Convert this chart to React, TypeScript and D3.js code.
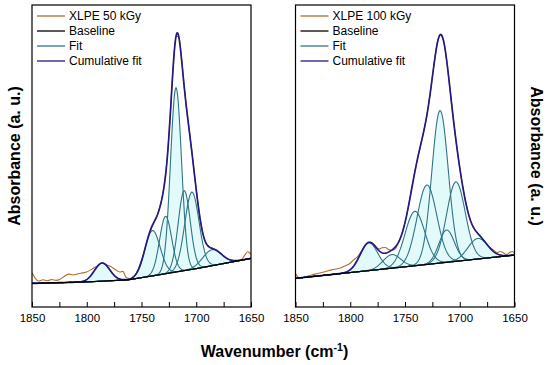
import React, { useRef, useEffect } from "react";
import * as d3 from "d3";

// x axis (wavenumber, cm-1)
const wnTicks = [1850, 1800, 1750, 1700, 1650];
const wnMinorTicks = [1825, 1775, 1725, 1675];
const legendNames = ["Baseline", "Fit", "Cumulative fit"];

// XLPE 50 kGy - measured spectrum
const spec50Wn = [1850, 1847, 1844, 1840, 1836, 1832, 1828, 1824, 1820, 1816, 1812, 1808, 1804, 1800, 1795, 1790, 1786, 1782, 1778, 1774, 1770, 1767, 1764, 1761, 1758, 1755, 1750, 1745, 1740, 1735, 1730, 1727, 1724, 1721, 1718.5, 1716, 1713, 1710, 1707, 1704, 1700, 1696, 1692, 1688, 1684, 1680, 1676, 1672, 1668, 1664, 1660, 1658, 1655, 1653, 1650];
const spec50Abs = [11.3, 9.5, 8.6, 9.0, 8.7, 9.1, 8.8, 9.3, 10.3, 10.9, 10.6, 11.0, 11.3, 11.6, 12.6, 13.7, 14.4, 14.0, 13.4, 12.4, 11.6, 11.8, 9.8, 9.4, 9.8, 11.0, 15.4, 21.5, 27.0, 31.1, 38.5, 47.2, 62.0, 79.7, 89.6, 89.5, 80.8, 69.4, 60.2, 51.4, 38.8, 28.3, 21.9, 19.9, 19.2, 18.5, 17.1, 16.1, 15.4, 15.3, 15.5, 15.9, 17.5, 18.3, 17.4];
// baseline anchor points
const base50Wn = [1850, 1800, 1762, 1700, 1650];
const base50Abs = [7.8, 8.3, 9.0, 12.7, 16.1];
// fitted peaks: centre, height above baseline, width (sigma)
const fit50Center = [1786, 1740, 1728, 1718.5, 1711, 1704, 1685.5];
const fit50Height = [6, 15, 19, 61, 26.5, 25.6, 5.3];
const fit50Sigma = [7, 7, 5.5, 5, 5.5, 6.5, 8.5];

// XLPE 100 kGy
const spec100Wn = [1850, 1848, 1845.5, 1841, 1835, 1829, 1823, 1817, 1810, 1805, 1800, 1797, 1793, 1789, 1786, 1783, 1780, 1777, 1774, 1771, 1768, 1765, 1762, 1759, 1756, 1753, 1750, 1747, 1744, 1741, 1738, 1735, 1732, 1729, 1726, 1723, 1720, 1718, 1715, 1712, 1709, 1706, 1703, 1700, 1697, 1694, 1691, 1688, 1685, 1682, 1678, 1675, 1672, 1669, 1666, 1663, 1660, 1657, 1654, 1652, 1650];
const spec100Abs = [11.2, 10.0, 9.5, 10.0, 10.6, 11.2, 11.7, 12.3, 12.8, 13.6, 14.5, 15.6, 16.8, 18.9, 20.5, 21.4, 21.2, 20.1, 19.2, 19.6, 19.7, 19.0, 18.8, 19.2, 21.4, 24.1, 28.0, 33.1, 39.0, 44.8, 50.0, 54.6, 59.6, 65.8, 73.5, 81.6, 88.3, 90.1, 88.5, 81.8, 72.5, 62.7, 54.0, 46.1, 39.4, 33.8, 29.4, 26.7, 25.0, 23.8, 22.0, 20.5, 19.6, 18.8, 18.0, 18.4, 17.9, 17.3, 18.2, 18.4, 17.8];
const base100Wn = [1850, 1753, 1650];
const base100Abs = [9.5, 13.2, 17.2];
const fit100Center = [1783, 1762, 1741, 1730, 1718, 1712, 1703.5, 1683.5];
const fit100Height = [9.2, 4.5, 18, 26.3, 50.5, 10.7, 26.3, 6.8];
const fit100Sigma = [8, 8, 9, 9, 7.5, 7, 8.5, 9];

const W = 550;
const H = 365;
const COL_SPEC = "#b26b2a";
const COL_BASE = "#000000";
const COL_FIT = "#2f7585";
const COL_CUM = "#231b84";
const COL_FILL = "#e2fafa";

const panels = [
  {
    id: "p50", x0: 32, x1: 251, name: "XLPE 50 kGy",
    specWn: spec50Wn, specAbs: spec50Abs, baseWn: base50Wn, baseAbs: base50Abs,
    fc: fit50Center, fh: fit50Height, fs: fit50Sigma,
  },
  {
    id: "p100", x0: 295.5, x1: 514.5, name: "XLPE 100 kGy",
    specWn: spec100Wn, specAbs: spec100Abs, baseWn: base100Wn, baseAbs: base100Abs,
    fc: fit100Center, fh: fit100Height, fs: fit100Sigma,
  },
];

const drawPanel = (svg: any, p: any) => {
  const x = d3.scaleLinear().domain([1850, 1650]).range([p.x0, p.x1]);
  const y = d3.scaleLinear().domain([0, 100]).range([307, 5]);
  const base = d3.scaleLinear().domain(p.baseWn).range(p.baseAbs);
  const grid = d3.range(1850, 1649.9, -0.5);
  const gauss = (w: number, i: number) =>
    p.fh[i] * Math.exp(-((w - p.fc[i]) ** 2) / (2 * p.fs[i] ** 2));

  svg.append("clipPath").attr("id", `clip-${p.id}`)
    .append("rect").attr("x", p.x0).attr("y", 5)
    .attr("width", p.x1 - p.x0).attr("height", 302);
  const g = svg.append("g").attr("clip-path", `url(#clip-${p.id})`);

  // measured spectrum
  const specLine = d3.line<number>()
    .x((_, i) => x(p.specWn[i]))
    .y((d) => y(d))
    .curve(d3.curveMonotoneX);
  g.append("path").attr("d", specLine(p.specAbs))
    .attr("fill", "none").attr("stroke", COL_SPEC).attr("stroke-width", 1.1);

  // filled fit peaks
  p.fc.forEach((_: number, i: number) => {
    const area = d3.area<number>()
      .x((w) => x(w))
      .y0((w) => y(base(w)))
      .y1((w) => y(base(w) + gauss(w, i)));
    g.append("path").attr("d", area(grid)).attr("fill", COL_FILL);
  });
  p.fc.forEach((_: number, i: number) => {
    const line = d3.line<number>()
      .x((w) => x(w))
      .y((w) => y(base(w) + gauss(w, i)));
    g.append("path").attr("d", line(grid))
      .attr("fill", "none").attr("stroke", COL_FIT).attr("stroke-width", 1.1);
  });

  // cumulative fit
  const cum = d3.line<number>()
    .x((w) => x(w))
    .y((w) => y(base(w) + d3.sum(p.fc, (_: number, i: number) => gauss(w, i))));
  g.append("path").attr("d", cum(grid))
    .attr("fill", "none").attr("stroke", COL_CUM).attr("stroke-width", 1.7);

  // baseline
  const bl = d3.line<number>().x((w) => x(w)).y((w) => y(base(w)));
  g.append("path").attr("d", bl(grid))
    .attr("fill", "none").attr("stroke", COL_BASE).attr("stroke-width", 1.3);

  // frame
  svg.append("rect").attr("x", p.x0).attr("y", 5)
    .attr("width", p.x1 - p.x0).attr("height", 302)
    .attr("fill", "none").attr("stroke", "#000").attr("stroke-width", 1.2);

  // bottom axis, ticks pointing inward
  const axis = d3.axisBottom(x)
    .tickValues([...wnTicks, ...wnMinorTicks])
    .tickSize(-5)
    .tickPadding(7)
    .tickFormat((d: any) => (wnTicks.includes(d) ? String(d) : ""));
  const ag = svg.append("g").attr("transform", "translate(0,307)").call(axis);
  ag.select(".domain").remove();
  ag.selectAll("line").attr("stroke", "#000").attr("stroke-width", 1);
  ag.selectAll("text").attr("fill", "#000")
    .style("font-size", "11.5px").style("font-family", "Arial, 'Liberation Sans', sans-serif");

  // legend
  const names = [p.name, ...legendNames];
  const cols = [COL_SPEC, COL_BASE, COL_FIT, COL_CUM];
  const lg = svg.append("g");
  names.forEach((n, i) => {
    const ly = 16 + i * 15;
    lg.append("line").attr("x1", p.x0 + 5).attr("x2", p.x0 + 33)
      .attr("y1", ly).attr("y2", ly)
      .attr("stroke", cols[i]).attr("stroke-width", 1.3);
    lg.append("text").attr("x", p.x0 + 37).attr("y", ly + 4.3)
      .attr("font-size", 12).attr("fill", "#000").text(n);
  });
};

export default function App() {
  const ref = useRef<HTMLDivElement>(null);

  useEffect(() => {
    const root = d3.select(ref.current);
    root.selectAll("*").remove();
    const svg = root.append("svg")
      .attr("width", W).attr("height", H)
      .style("position", "absolute").style("left", 0).style("top", 0)
      .style("font-family", "Arial, 'Liberation Sans', sans-serif");
    svg.append("rect").attr("width", W).attr("height", H).attr("fill", "#fff");

    panels.forEach((p) => drawPanel(svg, p));

    // axis titles
    svg.append("text")
      .attr("transform", "translate(14,156) rotate(-90)")
      .attr("text-anchor", "middle").attr("dy", "0.35em")
      .attr("font-size", 16).attr("font-weight", "bold")
      .text("Absorbance (a. u.)");
    svg.append("text")
      .attr("transform", "translate(537,156) rotate(90)")
      .attr("text-anchor", "middle").attr("dy", "0.35em")
      .attr("font-size", 16).attr("font-weight", "bold")
      .text("Absorbance (a. u.)");
    const xt = svg.append("text")
      .attr("x", 274.5).attr("y", 357)
      .attr("text-anchor", "middle")
      .attr("font-size", 16).attr("font-weight", "bold");
    xt.append("tspan").text("Wavenumber (cm");
    xt.append("tspan").attr("dy", -6).attr("font-size", 10.5).text("-1");
    xt.append("tspan").attr("dy", 6).text(")");
  }, []);

  return <div ref={ref}></div>;
}
